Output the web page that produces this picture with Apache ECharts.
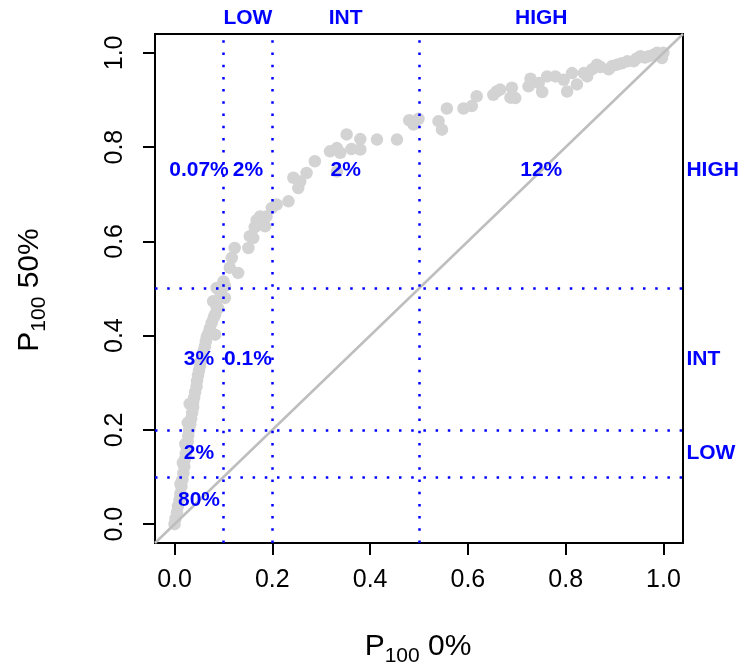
<!DOCTYPE html>
<html>
<head>
<meta charset="utf-8">
<script src="https://cdn.jsdelivr.net/npm/echarts@6/dist/echarts.min.js"></script>
<style>html,body{margin:0;padding:0;background:#fff;}#c{width:741px;height:670px;}</style>
</head>
<body>
<div id="c"></div>
<script>
// P100 0% (x) and P100 50% (y) for each point
const p0 = [0.000,0.002,0.005,0.007,0.010,0.012,0.014,0.016,0.018,0.020,0.021,0.023,0.025,0.027,0.028,0.030,0.032,0.034,0.036,0.038,
  0.038,0.040,0.042,0.045,0.046,0.048,0.050,0.052,0.054,0.057,0.059,0.062,0.064,0.066,0.070,0.072,0.076,0.080,0.083,0.083,
  0.086,0.079,0.089,0.094,0.086,0.100,0.103,0.103,0.113,0.117,0.130,0.123,0.151,0.161,0.154,0.164,0.168,0.175,0.185,0.188,
  0.199,0.209,0.233,0.243,0.253,0.257,0.270,0.287,0.318,0.332,0.339,0.332,0.352,0.362,0.380,0.380,0.414,0.455,0.480,0.489,
  0.499,0.540,0.547,0.557,0.591,0.608,0.618,0.652,0.659,0.666,0.687,0.690,0.697,0.724,0.728,0.745,0.752,0.762,0.779,0.796,
  0.803,0.813,0.823,0.837,0.844,0.854,0.864,0.871,0.888,0.895,0.905,0.915,0.926,0.939,0.945,0.953,0.962,0.970,0.980,0.987,
  0.993,1.000,0.997,0.012,0.017,0.022,0.027,0.031];
const p50 = [0.000,0.012,0.025,0.038,0.052,0.065,0.080,0.094,0.108,0.122,0.137,0.150,0.163,0.175,0.188,0.200,0.212,0.224,0.236,0.248,
  0.258,0.268,0.280,0.292,0.304,0.316,0.326,0.336,0.346,0.356,0.366,0.377,0.388,0.398,0.406,0.415,0.427,0.438,0.445,0.402,
  0.462,0.473,0.458,0.490,0.501,0.515,0.480,0.505,0.544,0.565,0.533,0.586,0.586,0.607,0.611,0.630,0.645,0.653,0.632,0.653,
  0.671,0.678,0.685,0.735,0.713,0.727,0.745,0.770,0.791,0.798,0.788,0.748,0.827,0.796,0.817,0.795,0.816,0.816,0.857,0.848,
  0.860,0.855,0.837,0.882,0.882,0.887,0.908,0.911,0.918,0.922,0.905,0.926,0.904,0.929,0.945,0.936,0.917,0.950,0.950,0.943,
  0.918,0.957,0.933,0.957,0.950,0.965,0.975,0.970,0.965,0.972,0.975,0.978,0.982,0.982,0.988,0.993,0.990,0.993,0.996,1.000,
  0.997,1.000,0.989,0.085,0.130,0.170,0.215,0.255];

const tickValues = [0, 0.2, 0.4, 0.6, 0.8, 1.0];
const tickLabels = ['0.0', '0.2', '0.4', '0.6', '0.8', '1.0'];
const axisMin = -0.04, axisMax = 1.04;
const diagonal = [[axisMin, axisMin], [axisMax, axisMax]];
const cutX = [0.1, 0.2, 0.5];
const cutY = [0.1, 0.2, 0.5];

const cellLabelX = [0.05, 0.15, 0.35, 0.75, 0.05, 0.15, 0.05, 0.05];
const cellLabelY = [0.75, 0.75, 0.75, 0.75, 0.35, 0.35, 0.15, 0.05];
const cellLabelText = ['0.07%', '2%', '2%', '12%', '3%', '0.1%', '2%', '80%'];

const topLabelX = [0.15, 0.35, 0.75];
const topLabelText = ['LOW', 'INT', 'HIGH'];
const rightLabelY = [0.75, 0.35, 0.15];
const rightLabelText = ['HIGH', 'INT', 'LOW'];

const FONT = 'Liberation Sans, Arial, Helvetica, sans-serif';
const BLUE = '#0000ff';

const chart = echarts.init(document.getElementById('c'), null, {renderer: 'canvas'});

const fmt = v => { const i = tickValues.findIndex(t => Math.abs(t - v) < 1e-9); return i >= 0 ? tickLabels[i] : ''; };

const labelStyle = {show: true, color: BLUE, opacity: 1, fontFamily: FONT, fontWeight: 'bold', fontSize: 21, formatter: p => p.value[2]};

const option = {
  backgroundColor: '#ffffff',
  animation: false,
  grid: {left: 155, right: 58, top: 34, bottom: 127, show: true, borderColor: '#000', borderWidth: 2, backgroundColor: 'transparent'},
  xAxis: {
    type: 'value', min: axisMin, max: axisMax,
    axisLine: {show: false, onZero: false},
    splitLine: {show: false},
    axisTick: {show: true, inside: false, length: 12, lineStyle: {color: '#000', width: 2}, customValues: tickValues},
    axisLabel: {show: true, margin: 25, fontSize: 25, color: '#000', fontFamily: FONT, customValues: tickValues, formatter: fmt}
  },
  yAxis: {
    type: 'value', min: axisMin, max: axisMax,
    axisLine: {show: false, onZero: false},
    splitLine: {show: false},
    axisTick: {show: true, inside: false, length: 12, lineStyle: {color: '#000', width: 2}, customValues: tickValues},
    axisLabel: {show: true, margin: 27, rotate: 90, fontSize: 25, color: '#000', fontFamily: FONT, customValues: tickValues, formatter: fmt}
  },
  graphic: [
    {type: 'text', x: 418, y: 647, z: 100,
     style: {text: '{p|P}{s|100}{p| 0%}', align: 'center', verticalAlign: 'middle',
       rich: {p: {fontSize: 30, fontFamily: FONT, fill: '#000'}, s: {fontSize: 21, fontFamily: FONT, fill: '#000', padding: [18, 0, 0, 0]}}}},
    {type: 'text', x: 30, y: 290, rotation: Math.PI / 2, z: 100,
     style: {text: '{p|P}{s|100}{p| 50%}', align: 'center', verticalAlign: 'middle',
       rich: {p: {fontSize: 30, fontFamily: FONT, fill: '#000'}, s: {fontSize: 21, fontFamily: FONT, fill: '#000', padding: [18, 0, 0, 0]}}}}
  ],
  series: [
    {
      type: 'scatter', z: 2,
      data: p0.map((x, i) => [x, p50[i]]),
      symbol: 'circle', symbolSize: 12.5,
      itemStyle: {color: '#d3d3d3', opacity: 1},
      silent: true
    },
    {
      type: 'line', z: 3, data: diagonal, symbol: 'none',
      lineStyle: {color: '#bebebe', width: 2.5}, silent: true,
      markLine: {
        silent: true, symbol: ['none', 'none'], label: {show: false},
        lineStyle: {color: BLUE, width: 2.5, type: [2.5, 9.7], cap: 'butt', opacity: 1},
        data: cutX.map(v => ({xAxis: v})).concat(cutY.map(v => ({yAxis: v})))
      }
    },
    {
      type: 'scatter', z: 5, symbolSize: 0, silent: true,
      itemStyle: {opacity: 1},
      data: cellLabelX.map((x, i) => [x, cellLabelY[i], cellLabelText[i]]),
      label: Object.assign({}, labelStyle, {position: 'inside', align: 'center', verticalAlign: 'middle'})
    },
    {
      type: 'scatter', z: 5, symbolSize: 0, silent: true, clip: false,
      itemStyle: {opacity: 1},
      data: topLabelX.map((x, i) => [x, 1.073, topLabelText[i]]),
      label: Object.assign({}, labelStyle, {position: 'inside', align: 'center', verticalAlign: 'middle'})
    },
    {
      type: 'scatter', z: 5, symbolSize: 0, silent: true, clip: false,
      itemStyle: {opacity: 1},
      data: rightLabelY.map((y, i) => [1.047, y, rightLabelText[i]]),
      label: Object.assign({}, labelStyle, {position: 'inside', align: 'left', verticalAlign: 'middle'})
    }
  ]
};
chart.setOption(option);
</script>
</body>
</html>
